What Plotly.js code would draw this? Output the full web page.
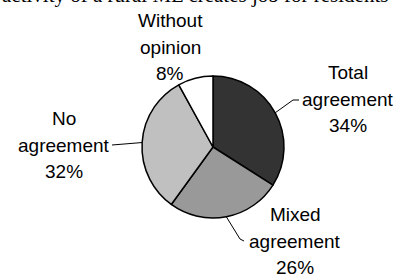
<!DOCTYPE html>
<html>
<head>
<meta charset="utf-8">
<script src="https://cdn.plot.ly/plotly-3.0.1.min.js"></script>
<style>html,body{margin:0;padding:0;background:#fff;}#chart{width:402px;height:277px;}</style>
</head>
<body>
<div id="chart"></div>
<script>
// ---- data ----
const categories = ['Total agreement', 'Mixed agreement', 'No agreement', 'Without opinion'];
const values = [34, 26, 32, 8];
const sliceColors = ['#333333', '#999999', '#c0c0c0', '#ffffff'];
const titleText = 'activity of a rural ML creates job for residents';

// ---- layout geometry (pixels) ----
const W = 402, H = 277;
const cx = 213, cy = 147, R = 71;
const m = {l: cx - R, r: W - (cx + R), t: cy - R, b: H - (cy + R), pad: 0};
const pw = W - m.l - m.r, ph = H - m.t - m.b;
const px2x = px => (px - m.l) / pw;
const py2y = py => 1 - (py - m.t) / ph;

// label block centres & leader-line end points (pixels), per category
const labelPos = [
  {x: 348, y: 99, leader: [[293, 100], [299, 100]]},
  {x: 295, y: 241, leader: [[240, 239], [244, 241]]},
  {x: 64, y: 145, leader: [[112, 145]]},
  {x: 170, y: 47, leader: null}
];
const lineGap = 26.5;
const labelFont = {family: 'Liberation Sans, Arial, sans-serif', size: 19, color: '#000'};

const total = values.reduce((a, b) => a + b, 0);
const annotations = [];
const shapes = [];
let cum = 0;
values.forEach((v, i) => {
  const mid = (cum + v / 2) / total * 2 * Math.PI; // clockwise from 12 o'clock
  cum += v;
  const ex = cx + R * Math.sin(mid), ey = cy - R * Math.cos(mid);
  const lines = categories[i].split(' ').concat([Math.round(v / total * 100) + '%']);
  const p = labelPos[i];
  lines.forEach((t, k) => {
    annotations.push({
      text: t, showarrow: false, xref: 'paper', yref: 'paper',
      x: px2x(p.x), y: py2y(p.y + (k - (lines.length - 1) / 2) * lineGap),
      xanchor: 'center', yanchor: 'middle', font: labelFont
    });
  });
  if (p.leader) {
    const pts = [[ex, ey]].concat(p.leader);
    const path = pts.map((q, k) => (k ? 'L' : 'M') + px2x(q[0]) + ',' + py2y(q[1])).join(' ');
    shapes.push({type: 'path', xref: 'paper', yref: 'paper', path: path,
      line: {color: '#000', width: 1}});
  }
});

annotations.push({
  text: titleText, showarrow: false, xref: 'paper', yref: 'paper',
  x: px2x(390), y: py2y(9), xanchor: 'right', yanchor: 'bottom',
  font: {family: 'Liberation Serif, Times New Roman, serif', size: 21, color: '#000'}
});

const trace = {
  type: 'pie', labels: categories, values: values, sort: false,
  direction: 'clockwise', rotation: 0, textinfo: 'none', hoverinfo: 'none',
  marker: {colors: sliceColors, line: {color: '#000', width: 1.5}},
  showlegend: false
};

Plotly.newPlot('chart', [trace], {
  width: W, height: H, margin: m, paper_bgcolor: '#fff', plot_bgcolor: '#fff',
  showlegend: false, annotations: annotations, shapes: shapes
}, {staticPlot: true});
</script>
</body>
</html>
